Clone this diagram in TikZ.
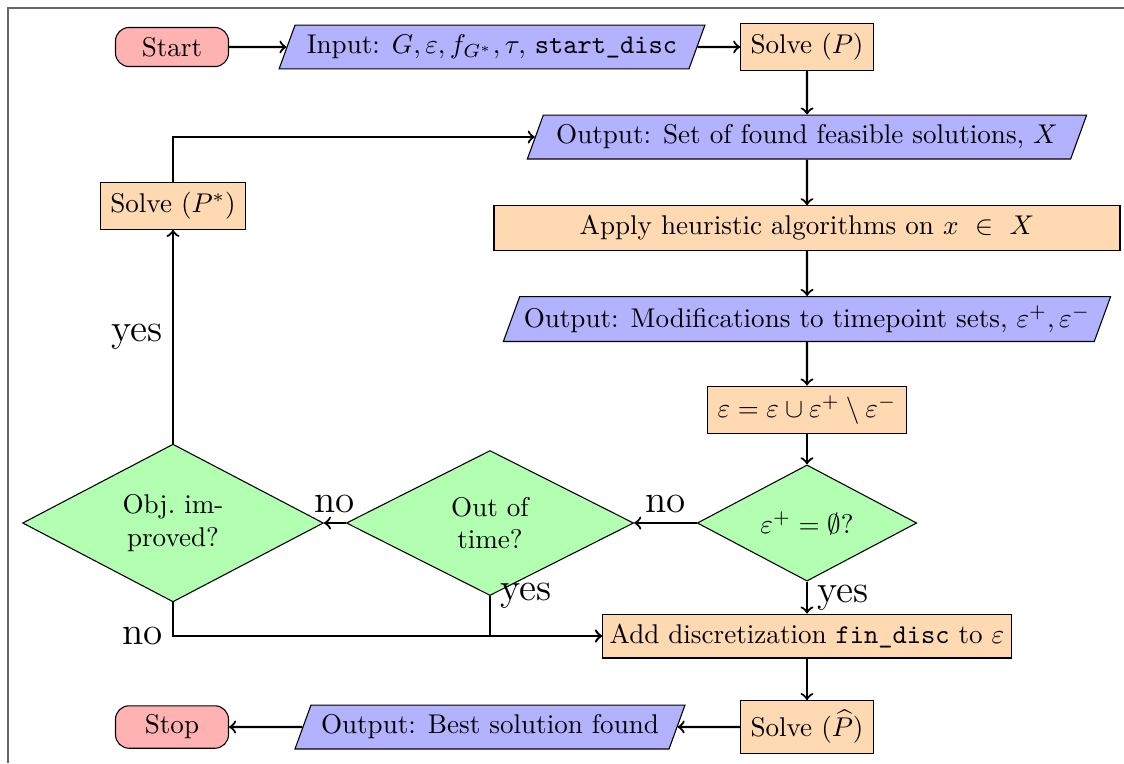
\documentclass[tikz,border=0pt]{standalone}
\usepackage{amsmath}
\usepackage{amssymb}
\usepackage{xcolor}
\usepackage{tikz}
\usetikzlibrary{shapes.geometric}

\begin{document}
\begin{tikzpicture}[x=0.369pt,y=-0.369pt,thick,
	startstop/.style={rectangle,rounded corners=5pt,minimum width=41.7pt,minimum height=14.4pt,draw=black,thin,fill=red!30},
	io/.style={trapezium,trapezium left angle=70,trapezium right angle=110,inner xsep=1.5pt,minimum height=16.2pt,draw=black,thin,fill=blue!30},
	process/.style={rectangle,inner sep=3.6pt,minimum height=16.2pt,draw=black,thin,fill=orange!30},
	decision/.style={diamond,inner sep=0pt,draw=black,thin,fill=green!30,align=center},
	lbl/.style={font=\Large}]
			\useasboundingbox (0,0) rectangle (1124,763);
			\draw[black!60,line width=0.5pt] (8,763) -- (8,8) -- (1124,8);
			\node[startstop] (start) at (172,47) {Start};
			\node[io] (input) at (492,47) {Input: $G,\varepsilon,f_{G^*},\tau,$ \texttt{start\_disc}};
			\node[process] (solveP) at (807,47) {Solve $(P)$};
			\node[io] (outX) at (807,137) {Output: Set of found feasible solutions, $X$};
			\node[process,minimum width=231pt] (heur) at (807,228) {Apply heuristic algorithms on $x\ \in\ X$};
			\node[io] (outMod) at (807,319) {Output: Modifications to timepoint sets, $\varepsilon^+,\varepsilon^-$};
			\node[process] (upd) at (807,410) {$\varepsilon=\varepsilon\cup\varepsilon^+\setminus\varepsilon^-$};
			\node[decision,minimum width=81pt,minimum height=40.6pt] (empty) at (807,523) {$\varepsilon^+=\emptyset$?};
			\node[decision,minimum width=106pt,minimum height=53.5pt] (time) at (490,523) {Out of\\time?};
			\node[decision,minimum width=111pt,minimum height=55pt] (impr) at (173,523) {Obj.\ im-\\proved?};
			\node[process] (solveS) at (173,206) {Solve $(P^*)$};
			\node[process,inner xsep=2.6pt] (fin) at (807,636) {Add discretization \texttt{fin\_disc} to $\varepsilon$};
			\node[process] (solveH) at (807,727) {Solve $(\widehat{P})$};
			\node[io] (outBest) at (490,727) {Output: Best solution found};
			\node[startstop] (stop) at (172,727) {Stop};
			\draw[->] (start) -- (input);
			\draw[->] (input) -- (solveP);
			\draw[->] (solveP) -- (outX);
			\draw[->] (outX) -- (heur);
			\draw[->] (heur) -- (outMod);
			\draw[->] (outMod) -- (upd);
			\draw[->] (upd) -- (empty);
			\draw[->] (empty) -- node[lbl,above] {no} (time);
			\draw[->] (time) -- node[lbl,above] {no} (impr);
			\draw[->] (impr) -- node[lbl,left] {yes} (solveS);
			\draw[->] (solveS) |- (outX);
			\draw[->] (empty) -- node[lbl,right] {yes} (fin);
			\draw[->] (time.south) |- node[lbl,pos=0,right] {yes} (fin.west);
			\draw[->] (impr.south) |- node[lbl,pos=0.5,left] {no} (fin.west);
			\draw[->] (fin) -- (solveH);
			\draw[->] (solveH) -- (outBest);
			\draw[->] (outBest) -- (stop);
		\end{tikzpicture}
\end{document}
